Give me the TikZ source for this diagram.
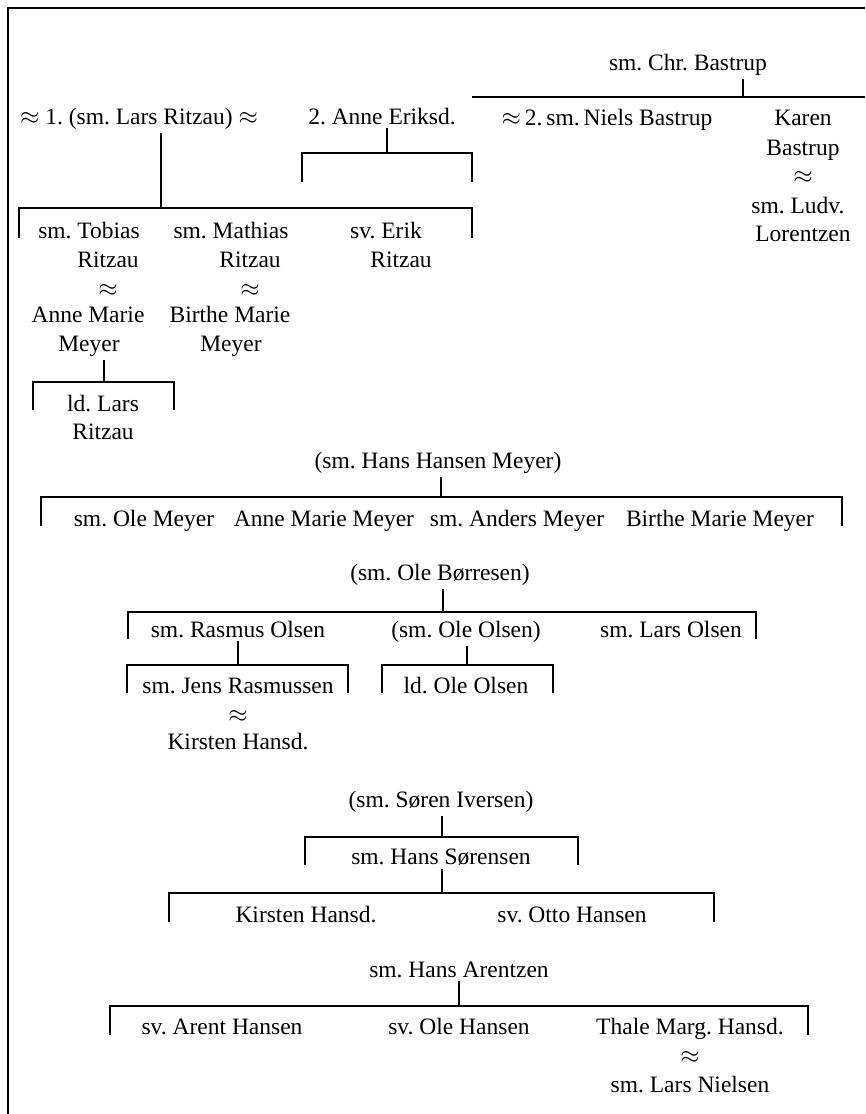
\documentclass[tikz,border=0pt]{standalone}
\usepackage{fontspec}
\setmainfont{Liberation Serif}
\newcommand{\apx}{\ensuremath{\approx}}
\begin{document}
\frenchspacing
\begin{tikzpicture}[x=1pt,y=-1pt,
  lbl/.style={anchor=base, inner sep=0pt, outer sep=0pt, font=\fontsize{23.5}{28}\selectfont},
  link/.style={line width=1.1pt},
  drop/.style={link, shorten <=4pt},
  frame/.style={line width=1.4pt}]
\useasboundingbox (0,0) rectangle (865,1114);
% frame
\coordinate (fc) at (8,8);
\coordinate (fr) at (865,8);
\coordinate (fb) at (8,1114);
\draw[frame] (fr) -- (fc) -- (fb);

% ---- top group
\node[lbl] (lars)  at (139,124) {\apx{} 1. (sm. Lars Ritzau) \apx};
\node[lbl] (anne)  at (382,124) {2. Anne Eriksd.};
\node[lbl] (chr)   at (688,70)  {sm. Chr. Bastrup};
\node[lbl] (niels) at (607,125) {\apx\,2.\,sm.\,Niels Bastrup};
\node[lbl] (karenA) at (803,125) {Karen};
\node[lbl] (karenB) at (803,155) {Bastrup};
\node[lbl] (karenM) at (803,183) {\apx};
\node[lbl] (ludvA)  at (798,213) {sm. Ludv.};
\node[lbl] (ludvB)  at (803,241) {Lorentzen};

\node[lbl] (tobA) at (89,238)  {sm. Tobias};
\node[lbl] (tobB) at (108,267) {Ritzau};
\node[lbl] (tobM) at (108,296) {\apx};
\node[lbl] (amA)  at (88,322)  {Anne Marie};
\node[lbl] (amB)  at (89,351)  {Meyer};
\node[lbl] (matA) at (231,238) {sm. Mathias};
\node[lbl] (matB) at (250,267) {Ritzau};
\node[lbl] (matM) at (250,296) {\apx};
\node[lbl] (bmA)  at (230,322) {Birthe Marie};
\node[lbl] (bmB)  at (231,351) {Meyer};
\node[lbl] (erikA) at (386,238) {sv. Erik};
\node[lbl] (erikB) at (401,267) {Ritzau};
\node[lbl] (ldA) at (103,411) {ld. Lars};
\node[lbl] (ldB) at (103,439) {Ritzau};

% brackets of top group
\coordinate (j1) at (161,208);
\coordinate (t1l) at (19,238);
\coordinate (t1r) at (472,238);
\draw[drop] (j1 |- lars.south) -- (j1);
\draw[link] (t1l) -- (t1l |- j1) -- (t1r |- j1) -- (t1r);

\coordinate (j2) at (387,153);
\coordinate (t2l) at (302,182);
\coordinate (t2r) at (472,182);
\draw[drop] (j2 |- anne.south) -- (j2);
\draw[link] (t2l) -- (t2l |- j2) -- (t2r |- j2) -- (t2r);

\coordinate (j3) at (743,97);
\coordinate (t3l) at (472,97);
\coordinate (t3r) at (865,97);
\draw[drop] (j3 |- chr.south) -- (j3);
\draw[link] (t3l) -- (t3r);

\coordinate (j4) at (104,382);
\coordinate (t4l) at (33,410);
\coordinate (t4r) at (174,410);
\draw[drop] (j4 |- amB.south) -- (j4);
\draw[link] (t4l) -- (t4l |- j4) -- (t4r |- j4) -- (t4r);

% ---- Hans Hansen Meyer
\node[lbl] (hhm) at (438,468) {(sm. Hans Hansen Meyer)};
\node[lbl] (oleM)    at (144,526) {sm. Ole Meyer};
\node[lbl] (anneM)   at (324,526) {Anne Marie Meyer};
\node[lbl] (andersM) at (517,526) {sm. Anders Meyer};
\node[lbl] (birtheM) at (720,526) {Birthe Marie Meyer};
\coordinate (j5) at (441,497);
\coordinate (t5l) at (41,526);
\coordinate (t5r) at (842,526);
\draw[drop] (j5 |- hhm.south) -- (j5);
\draw[link] (t5l) -- (t5l |- j5) -- (t5r |- j5) -- (t5r);

% ---- Ole Børresen
\node[lbl] (bor) at (440,580) {(sm. Ole Børresen)};
\node[lbl] (rasmus) at (238,637) {sm. Rasmus Olsen};
\node[lbl] (oleO)   at (466,637) {(sm. Ole Olsen)};
\node[lbl] (larsO)  at (671,637) {sm. Lars Olsen};
\coordinate (j6) at (443,612);
\coordinate (t6l) at (128,639);
\coordinate (t6r) at (756,639);
\draw[drop] (j6 |- bor.south) -- (j6);
\draw[link] (t6l) -- (t6l |- j6) -- (t6r |- j6) -- (t6r);

\node[lbl] (jens)  at (238,693) {sm. Jens Rasmussen};
\node[lbl] (jensM) at (238,722) {\apx};
\node[lbl] (kirA)  at (238,749) {Kirsten Hansd.};
\coordinate (j7) at (238,665);
\coordinate (t7l) at (127,693);
\coordinate (t7r) at (348,693);
\draw[drop] (j7 |- rasmus.south) -- (j7);
\draw[link] (t7l) -- (t7l |- j7) -- (t7r |- j7) -- (t7r);

\node[lbl] (ldOle) at (466,693) {ld. Ole Olsen};
\coordinate (j8) at (467,665);
\coordinate (t8l) at (382,693);
\coordinate (t8r) at (553,693);
\draw[drop] (j8 |- oleO.south) -- (j8);
\draw[link] (t8l) -- (t8l |- j8) -- (t8r |- j8) -- (t8r);

% ---- Søren Iversen
\node[lbl] (soren) at (441,807) {(sm. Søren Iversen)};
\node[lbl] (hansS) at (441,864) {sm. Hans Sørensen};
\coordinate (j9) at (442,837);
\coordinate (t9l) at (305,865);
\coordinate (t9r) at (578,865);
\draw[drop] (j9 |- soren.south) -- (j9);
\draw[link] (t9l) -- (t9l |- j9) -- (t9r |- j9) -- (t9r);

\node[lbl] (kirB) at (306,922) {Kirsten Hansd.};
\node[lbl] (otto) at (572,922) {sv. Otto Hansen};
\coordinate (j10) at (442,893);
\coordinate (t10l) at (169,922);
\coordinate (t10r) at (714,922);
\draw[drop] (j10 |- hansS.south) -- (j10);
\draw[link] (t10l) -- (t10l |- j10) -- (t10r |- j10) -- (t10r);

% ---- Hans Arentzen
\node[lbl] (arentzen) at (459,977) {sm. Hans Arentzen};
\node[lbl] (arent)  at (222,1034) {sv. Arent Hansen};
\node[lbl] (oleH)   at (459,1034) {sv. Ole Hansen};
\node[lbl] (thale)  at (690,1034) {Thale Marg. Hansd.};
\node[lbl] (thaleM) at (690,1063) {\apx};
\node[lbl] (nielsen) at (690,1092) {sm. Lars Nielsen};
\coordinate (j11) at (459,1006);
\coordinate (t11l) at (110,1035);
\coordinate (t11r) at (808,1035);
\draw[drop] (j11 |- arentzen.south) -- (j11);
\draw[link] (t11l) -- (t11l |- j11) -- (t11r |- j11) -- (t11r);
\end{tikzpicture}
\end{document}
